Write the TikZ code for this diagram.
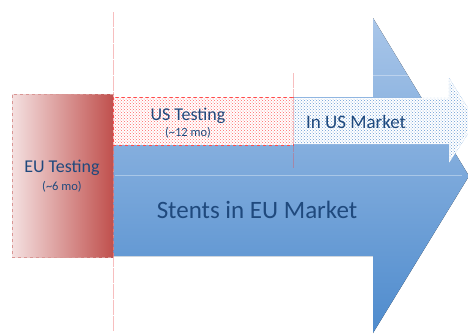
\documentclass[tikz,border=0pt]{standalone}
\usepackage{fontspec}
\setmainfont{Carlito}
\usetikzlibrary{patterns}
\definecolor{titleblue}{HTML}{1F497D}
\definecolor{eured}{HTML}{C0504D}
\definecolor{eupink}{HTML}{F4E0E0}
\definecolor{marketlight}{HTML}{A9C6E9}
\definecolor{marketdark}{HTML}{4E8BCD}
\definecolor{linered}{HTML}{E8474A}
\begin{document}
\begin{tikzpicture}[x=1pt, y=-1pt, text=titleblue]
  \tikzset{phase box/.style={draw=eured!60, dashed, line width=0.4pt, inner sep=0pt, anchor=north west},
           milestone/.style={left color=linered, right color=linered},
           label text/.style={font=\fontsize{18}{20}\selectfont},
           small text/.style={font=\fontsize{12.5}{14}\selectfont}}
  \useasboundingbox (0,0) rectangle (468,333);
  \clip (0,0) rectangle (468,333);

  % Big arrow - EU market
  \fill[top color=marketlight, bottom color=marketdark]
    (113,97) -- (373,97) -- (373,18) -- (469,176) -- (373,333) -- (373,256) -- (113,256) -- cycle;
  \draw[white, opacity=0.35] (115,175) -- (462,175);
  \draw[white, opacity=0.35] (373,75) -- (408,75);

  % EU testing box
  \node[phase box, left color=eupink, right color=eured, minimum width=101pt, minimum height=163pt]
    (eutest) at (12,94) {};

  % US testing box and US market arrow, plain fills
  \node[phase box, draw=red!70, fill=white, minimum width=180pt, minimum height=48pt]
    (ustest) at (113,97) {};
  \draw[draw=marketdark!80, densely dotted, fill=white]
    (293,98) -- (449,98) -- (449,78) -- (476,121) -- (449,163) -- (449,144) -- (293,144) -- cycle;

  % Dot fills
  \fill[pattern=crosshatch dots, pattern color=red!60] (113.6,97.5) rectangle (292.5,144.5);
  \fill[pattern=crosshatch dots, pattern color=marketdark!85]
    (293.5,99) -- (449,99) -- (449,80) -- (474,121) -- (449,161) -- (449,143) -- (293.5,143) -- cycle;

  % Approval lines, as thin dashes
  \foreach \y in {12,15.2,...,330} {
    \shade[milestone] (112.6,\y) rectangle (113.4,\y+2);
  }
  \foreach \y in {73,76.2,...,168} {
    \shade[milestone] (292.6,\y) rectangle (293.4,\y+2);
  }

  % Labels
  \node[font=\fontsize{25}{28}\selectfont] (eumarket) at (257,210) {Stents in EU Market};
  \node[label text] (eulabel) at (62,168) {EU Testing};
  \node[small text] (eumonths) at (62,187) {(\textasciitilde6 mo)};
  \node[label text] (uslabel) at (188,116) {US Testing};
  \node[small text] (usmonths) at (188,133) {(\textasciitilde12 mo)};
  \node[font=\fontsize{19}{21}\selectfont] (usmarket) at (356,122) {In US Market};
\end{tikzpicture}
\end{document}
